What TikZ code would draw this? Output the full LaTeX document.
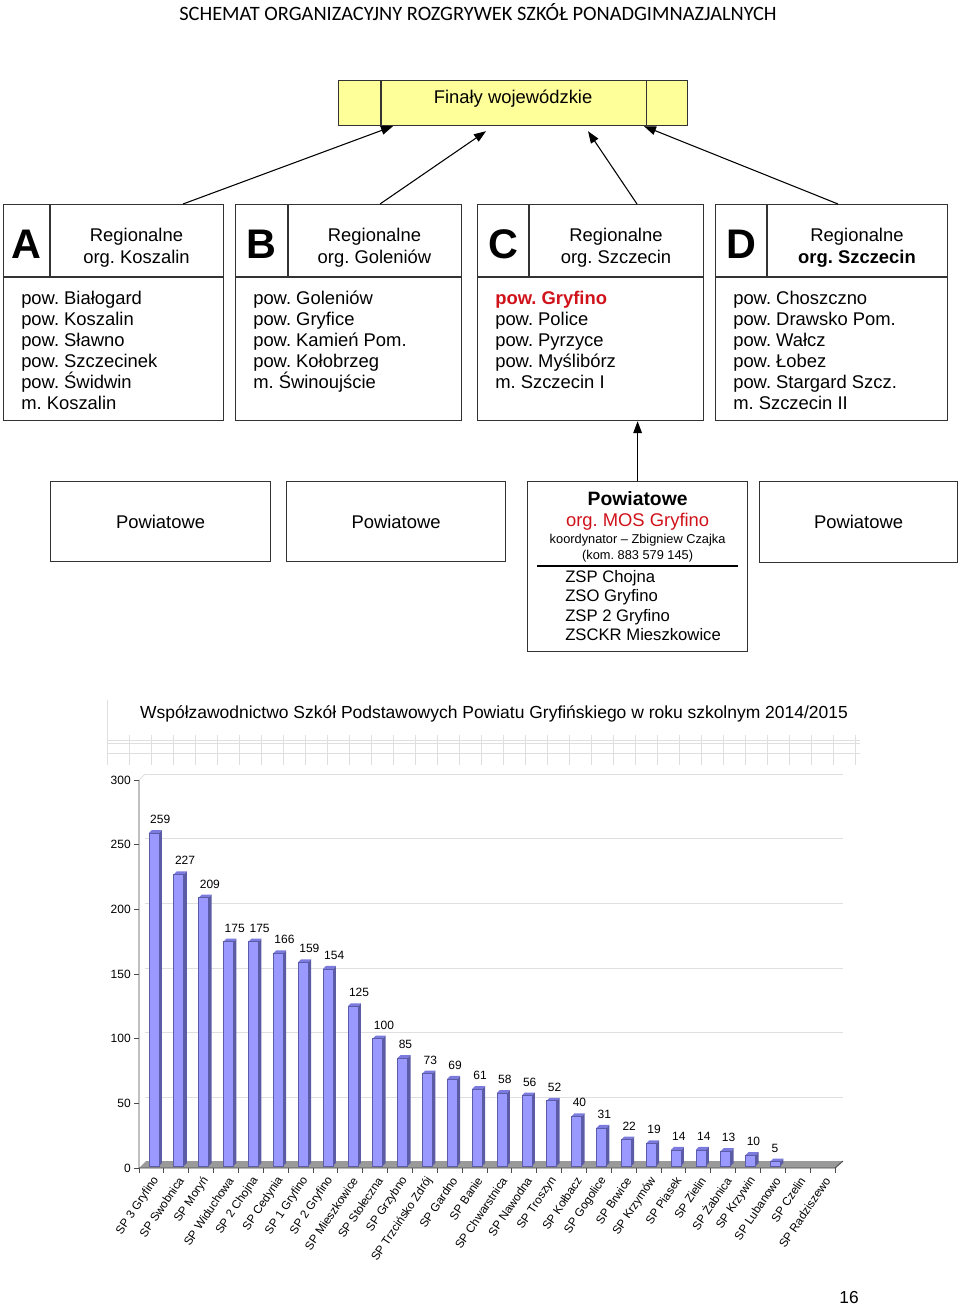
\documentclass[tikz,border=0pt]{standalone}
\usepackage{fontspec}
\setmainfont{Liberation Sans}
\newfontfamily\titlefont{Carlito}
\usetikzlibrary{arrows.meta, calc, positioning}
\frenchspacing

\definecolor{finfill}{HTML}{FFFF99}
\definecolor{redtxt}{HTML}{D0121B}
\definecolor{barfront}{HTML}{9999FF}
\definecolor{barside}{HTML}{5C5CA6}
\definecolor{bartop}{HTML}{7A7ADF}
\definecolor{floorgray}{HTML}{9A9A9A}

\newcommand{\fsz}[2]{\fontsize{#1}{#2}\selectfont}

\begin{document}
\begin{tikzpicture}[x=0.75pt, y=-0.75pt,
	box/.style={draw=black!80, line width=0.9pt, inner sep=0pt, anchor=north west},
	boxline/.style={draw=black!80, line width=0.9pt},
	hd/.style={font=\fsz{13.8}{16.5}, align=center},
	lst/.style={font=\fsz{13.8}{15.75}, align=left, anchor=north west, inner sep=0pt},
	big/.style={font=\fsz{31}{31}\bfseries},
	arr/.style={-{Triangle[length=9pt,width=6.5pt]}, line width=0.8pt},
	grid/.style={draw=gray!25, line width=0.6pt},
	axis/.style={draw=black!70, line width=0.7pt},
	val/.style={font=\fsz{9}{10}, inner sep=0pt},
	cat/.style={font=\fsz{8.8}{10}, inner sep=0pt}]

	\useasboundingbox (0,0) rectangle (960,1306);

	\def\cw{24.86}
	\def\yz{1168}
	\def\sc{1.2933}

	% naglowek
	\node[font=\titlefont\fsz{15.3}{17}] (title) at (478,12) {SCHEMAT ORGANIZACYJNY ROZGRYWEK SZKÓŁ PONADGIMNAZJALNYCH};

	% finaly
	\node[box, fill=finfill, minimum width=261.75pt, minimum height=33.75pt] (fin) at (338,80) {};
	\draw[boxline]	($(fin.north west)+(43,0)$) -- ($(fin.south west)+(43,0)$)
					($(fin.north east)+(-42,0)$) -- ($(fin.south east)+(-42,0)$);
	\node[font=\fsz{13.8}{16}] (fintxt) at ($(fin.center)+(0,-4)$) {Finały wojewódzkie};

	% regiony
	\node[box, minimum width=165pt, minimum height=162pt] (regA) at (3,204) {};
	\draw[boxline]	($(regA.north west)+(0,73)$) -- ($(regA.north east)+(0,73)$)
					($(regA.north west)+(47,0)$) -- ($(regA.north west)+(47,73)$);
	\node[big] (letA) at ($(regA.north west)+(23,40)$) {A};
	\node[hd] (orgA) at ($(regA.north west)+(133.5,44)$) {Regionalne\\org. Koszalin};
	\node[lst] (listA) at ($(regA.north west)+(18,87)$) {pow. Białogard\\pow. Koszalin\\pow. Sławno\\pow. Szczecinek\\pow. Świdwin\\m. Koszalin};

	\node[box, minimum width=169.5pt, minimum height=162pt] (regB) at (235,204) {};
	\draw[boxline]	($(regB.north west)+(0,73)$) -- ($(regB.north east)+(0,73)$)
					($(regB.north west)+(53,0)$) -- ($(regB.north west)+(53,73)$);
	\node[big] (letB) at ($(regB.north west)+(26,40)$) {B};
	\node[hd] (orgB) at ($(regB.north west)+(139.5,44)$) {Regionalne\\org. Goleniów};
	\node[lst] (listB) at ($(regB.north west)+(18,87)$) {pow. Goleniów\\pow. Gryfice\\pow. Kamień Pom.\\pow. Kołobrzeg\\m. Świnoujście};

	\node[box, minimum width=169.5pt, minimum height=162pt] (regC) at (477,204) {};
	\draw[boxline]	($(regC.north west)+(0,73)$) -- ($(regC.north east)+(0,73)$)
					($(regC.north west)+(52,0)$) -- ($(regC.north west)+(52,73)$);
	\node[big] (letC) at ($(regC.north west)+(26,40)$) {C};
	\node[hd] (orgC) at ($(regC.north west)+(139,44)$) {Regionalne\\org. Szczecin};
	\node[lst] (listC) at ($(regC.north west)+(18,87)$) {\textcolor{redtxt}{\bfseries pow. Gryfino}\\pow. Police\\pow. Pyrzyce\\pow. Myślibórz\\m. Szczecin I};

	\node[box, minimum width=174pt, minimum height=162pt] (regD) at (715,204) {};
	\draw[boxline]	($(regD.north west)+(0,73)$) -- ($(regD.north east)+(0,73)$)
					($(regD.north west)+(52,0)$) -- ($(regD.north west)+(52,73)$);
	\node[big] (letD) at ($(regD.north west)+(26,40)$) {D};
	\node[hd] (orgD) at ($(regD.north west)+(142,44)$) {Regionalne\\\textbf{org. Szczecin}};
	\node[lst] (listD) at ($(regD.north west)+(18,87)$) {pow. Choszczno\\pow. Drawsko Pom.\\pow. Wałcz\\pow. Łobez\\pow. Stargard Szcz.\\m. Szczecin II};

	\draw[arr] ($(regA.north west)+(180,0)$) -- ($(fin.south west)+(55,0)$);
	\draw[arr] ($(regB.north west)+(145,0)$) -- ($(fin.south west)+(148,5)$);
	\draw[arr] ($(regC.north west)+(160,0)$) -- ($(fin.south west)+(250,5)$);
	\draw[arr] ($(regD.north west)+(123,0)$) -- ($(fin.south west)+(306,0)$);

	% powiatowe
	\node[box, minimum width=165pt, minimum height=60pt, font=\fsz{13.8}{16}] (p1) at (50,481) {Powiatowe};
	\node[box, minimum width=164.25pt, minimum height=60pt, font=\fsz{13.8}{16}] (p2) at (286,481) {Powiatowe};
	\node[box, minimum width=165pt, minimum height=127.5pt] (p3) at (527,481) {};
	\node[box, minimum width=148.5pt, minimum height=60.75pt, font=\fsz{13.8}{16}] (p4) at (759,481) {Powiatowe};

	\node[font=\fsz{14.5}{16}\bfseries] (p3a) at ($(p3.north)+(0,18)$) {Powiatowe};
	\node[font=\fsz{13.8}{16}, text=redtxt] (p3b) at ($(p3.north)+(0,41)$) {org. MOS Gryfino};
	\node[font=\fsz{9.6}{12}, align=center] (p3c) at ($(p3.north)+(0,67)$) {koordynator -- Zbigniew Czajka\\(kom. 883 579 145)};
	\draw[line width=0.8pt] ($(p3.north west)+(10,85)$) -- ($(p3.north east)+(-10,85)$);
	\node[lst, font=\fsz{12.5}{14.5}] (p3d) at ($(p3.north west)+(38,89)$) {ZSP Chojna\\ZSO Gryfino\\ZSP 2 Gryfino\\ZSCKR Mieszkowice};

	\draw[arr] (p3.north) -- (p3.north |- regC.south);

	% wykres
	\node[font=\fsz{13.1}{14}] (ctitle) at (494,714) {Współzawodnictwo Szkół Podstawowych Powiatu Gryfińskiego w roku szkolnym 2014/2015};

	\draw[grid] (107,700) -- (107,765);
	\foreach \y in {740,743,753}
		\draw[grid] (107,\y) -- (860,\y);
	\foreach \k in {1,...,34}
		\draw[grid] (107+22*\k,735) -- (107+22*\k,765);

	\foreach \k in {1,...,6}
		\draw[grid] (145,\yz-6-\k*64.67) -- (843,\yz-6-\k*64.67);
	\draw[grid] (139,780) -- (145,774);

	\fill[floorgray] (139,\yz) -- (146,1161) -- (843,1161) -- (835,\yz) -- cycle;
	\draw[axis] (139,780) -- (139,\yz) -- (835,\yz) -- (843,1161);
	\foreach \k in {0,...,6}{
		\draw[axis] (134,\yz-\k*64.67) -- (139,\yz-\k*64.67);
		\pgfmathtruncatemacro\lab{50*\k}
		\node[val, anchor=east] (t\k) at (131,\yz-\k*64.67) {\lab};
	}
	\foreach \k in {0,...,28}
		\draw[axis] (139+\cw*\k,\yz) -- (139+\cw*\k,\yz+5);

	\foreach \v [count=\i from 0] in {259,227,209,175,175,166,159,154,125,100,85,73,69,61,58,56,52,40,31,22,19,14,14,13,10,5}{
		\pgfmathsetmacro\xa{148.9+\cw*\i}
		\pgfmathsetmacro\xb{\xa+10}
		\pgfmathsetmacro\yt{\yz-\v*\sc}
		\fill[barside] (\xb,1166) -- (\xb,\yt) -- (\xb+3,\yt-3) -- (\xb+3,1163) -- cycle;
		\fill[bartop] (\xa,\yt) -- (\xa+3,\yt-3) -- (\xb+3,\yt-3) -- (\xb,\yt) -- cycle;
		\filldraw[fill=barfront, draw=barside, line width=0.4pt] (\xa,1166) rectangle (\xb,\yt);
		\node[val, anchor=base west] (v\i) at (\xa+1,\yt-9.5) {\v};
	}

	\foreach \n [count=\i from 0] in {SP 3 Gryfino, SP Swobnica, SP Moryń, SP Widuchowa, SP 2 Chojna, SP Cedynia, SP 1 Gryfino, SP 2 Gryfino, SP Mieszkowice, SP Stołeczna, SP Grzybno, SP Trzcińsko Zdrój, SP Gardno, SP Banie, SP Chwarstnica, SP Nawodna, SP Troszyn, SP Kołbacz, SP Gogolice, SP Brwice, SP Krzymów, SP Piasek, SP Zielin, SP Żabnica, SP Krzywin, SP Lubanowo, SP Czelin, SP Radziszewo}
		\node[cat, rotate=56, anchor=east] (c\i) at (156.4+\cw*\i,1178) {\n};

	\node[font=\fsz{13}{14}] (pg) at (849,1298) {16};
\end{tikzpicture}
\end{document}
